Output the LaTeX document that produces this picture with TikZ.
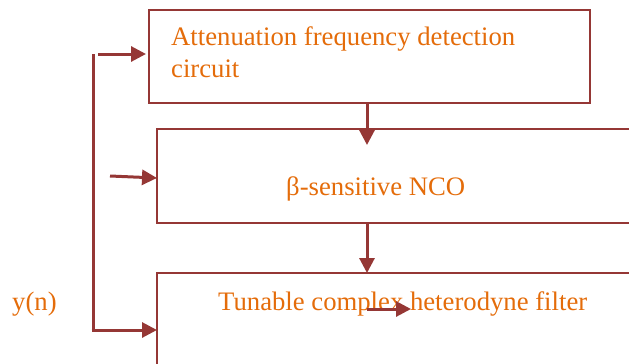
\documentclass[tikz,border=0pt]{standalone}
\usepackage{fontspec}
\setmainfont{Liberation Serif}
\usetikzlibrary{arrows.meta}
\definecolor{linec}{HTML}{953735}
\definecolor{textc}{HTML}{E46C0A}
\begin{document}
\begin{tikzpicture}[x=1pt,y=-1pt,
  blockbox/.style={draw=linec,line width=2.2pt,rectangle},
  lbl/.style={text=textc,font=\fontsize{26.7}{32}\selectfont,inner sep=0pt,anchor=base west,align=left},
  conn/.style={draw=linec,line width=3pt,-{Triangle[length=15pt,width=15pt]}},
  plain/.style={draw=linec,line width=3pt}]
\useasboundingbox (0,0) rectangle (629,364);
\clip (0,0) rectangle (629,364);
% boxes
\draw[blockbox] (149,10) rectangle (590,103);
\coordinate (b1s) at (367,103);
\draw[blockbox] (157,129) rectangle (660,223);
\coordinate (b2s) at (367,223);
\coordinate (b2in) at (367,145);
\coordinate (b2w) at (157,178);
\draw[blockbox] (157,273) rectangle (660,400);
\coordinate (b3n) at (367,273);
\coordinate (b3w) at (157,330);
% texts
\node[lbl] (t1) at (171,77) {Attenuation frequency detection\\circuit};
\node[lbl] (t2) at (286,195) {β-sensitive NCO};
\node[lbl] (t3) at (218,310) {Tunable complex heterodyne filter};
\node[lbl] (yn) at (12,310) {y(n)};
% connectors
\draw[conn] (b1s) -- (b2in);
\draw[conn] (b2s) -- (b3n);
\coordinate (ia) at (367,309);
\coordinate (ib) at (411,309);
\draw[conn] (ia) -- (ib);
\coordinate (vt) at (93,54);
\coordinate (ta) at (98,54);
\coordinate (tb) at (146,54);
\draw[conn] (ta) -- (tb);
\coordinate (ma) at (110,176);
\draw[conn] (ma) -- (b2w);
\draw[plain,line cap=butt] (vt) -- (93,330);
\draw[conn] (91.5,330) -- (b3w);
\end{tikzpicture}
\end{document}
